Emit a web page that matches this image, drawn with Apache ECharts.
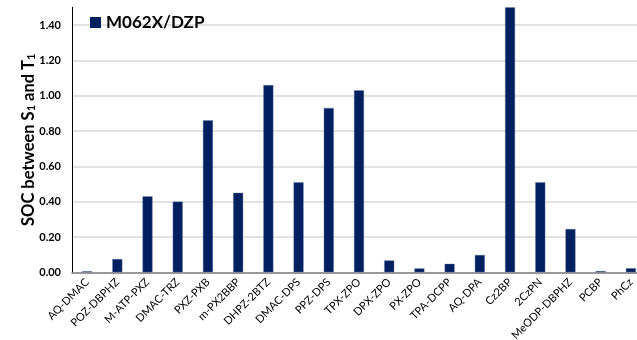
<!DOCTYPE html>
<html>
<head>
<meta charset="utf-8">
<script src="https://cdn.jsdelivr.net/npm/echarts@6/dist/echarts.min.js"></script>
<style>
  html, body { margin: 0; padding: 0; background: #fff; overflow: hidden; }
  #chart { width: 637px; height: 340px; }
</style>
</head>
<body>
<div id="chart"></div>
<script>
// Emitters along the x axis
const categories = [
  'AQ-DMAC', 'POZ-DBPHZ', 'M-ATP-PXZ', 'DMAC-TRZ', 'PXZ-PXB', 'm-PX2BBP',
  'DHPZ-2BTZ', 'DMAC-DPS', 'PPZ-DPS', 'TPX-ZPO', 'DPX-ZPO', 'PX-ZPO',
  'TPA-DCPP', 'AQ-DPA', 'Cz2BP', '2CzPN', 'MeODP-DBPHZ', 'PCBP', 'PhCz'
];

// Spin-orbit coupling between S1 and T1, M062X/DZP level
const seriesName = 'M062X/DZP';
const socValues = [
  0.006, 0.075, 0.43, 0.40, 0.86, 0.45,
  1.06, 0.51, 0.93, 1.03, 0.067, 0.022,
  0.048, 0.098, 1.50, 0.51, 0.245, 0.007, 0.023
];

// Value axis range and step
const yMin = 0;
const yMax = 1.5;
const yStep = 0.2;

const navy = '#002060';
const chart = echarts.init(document.getElementById('chart'), null, { renderer: 'canvas' });

chart.setOption({
  animation: false,
  backgroundColor: '#ffffff',
  grid: { left: 72, right: -9, top: 7.3, bottom: 67.7, containLabel: false, outerBoundsMode: 'none' },
  legend: {
    data: [seriesName],
    left: 85,
    top: 9,
    itemWidth: 11,
    itemHeight: 11,
    icon: 'rect',
    itemGap: 6,
    itemStyle: { borderWidth: 0 },
    textStyle: { fontFamily: 'Lato', fontWeight: 'bold', fontSize: 17, color: '#000' }
  },
  xAxis: {
    type: 'category',
    data: categories,
    axisLine: { show: true, lineStyle: { color: '#808080', width: 1.5 } },
    axisTick: { show: false },
    axisLabel: {
      interval: 0,
      rotate: 45,
      margin: 8,
      fontFamily: 'Lato',
      fontSize: 11,
      color: '#000'
    },
    splitLine: { show: false }
  },
  yAxis: {
    type: 'value',
    min: yMin,
    max: yMax,
    interval: yStep,
    name: 'SOC between S{sub|1} and T{sub|1}',
    nameLocation: 'middle',
    nameRotate: 90,
    nameGap: 35,
    nameMoveOverlap: false,
    nameTextStyle: {
      fontFamily: 'Lato',
      fontWeight: 'bold',
      fontSize: 16.5,
      color: '#000',
      rich: {
        sub: { fontFamily: 'Lato', fontWeight: 'bold', fontSize: 11, verticalAlign: 'bottom', padding: [5, 0, 0, 0] }
      }
    },
    axisLine: { show: true, lineStyle: { color: '#000', width: 1 } },
    axisTick: { show: false },
    axisLabel: {
      margin: 11,
      fontFamily: 'Lato',
      fontWeight: 'bold',
      fontSize: 11,
      color: '#000',
      showMaxLabel: false,
      formatter: v => v.toFixed(2)
    },
    splitLine: { show: true, showMaxLine: false, lineStyle: { color: '#d9d9d9', width: 1.5 } }
  },
  series: [{
    name: seriesName,
    type: 'bar',
    data: socValues,
    barWidth: 10,
    itemStyle: { color: navy, borderColor: '#6f7fa6', borderWidth: 0.4 }
  }]
});
</script>
</body>
</html>
